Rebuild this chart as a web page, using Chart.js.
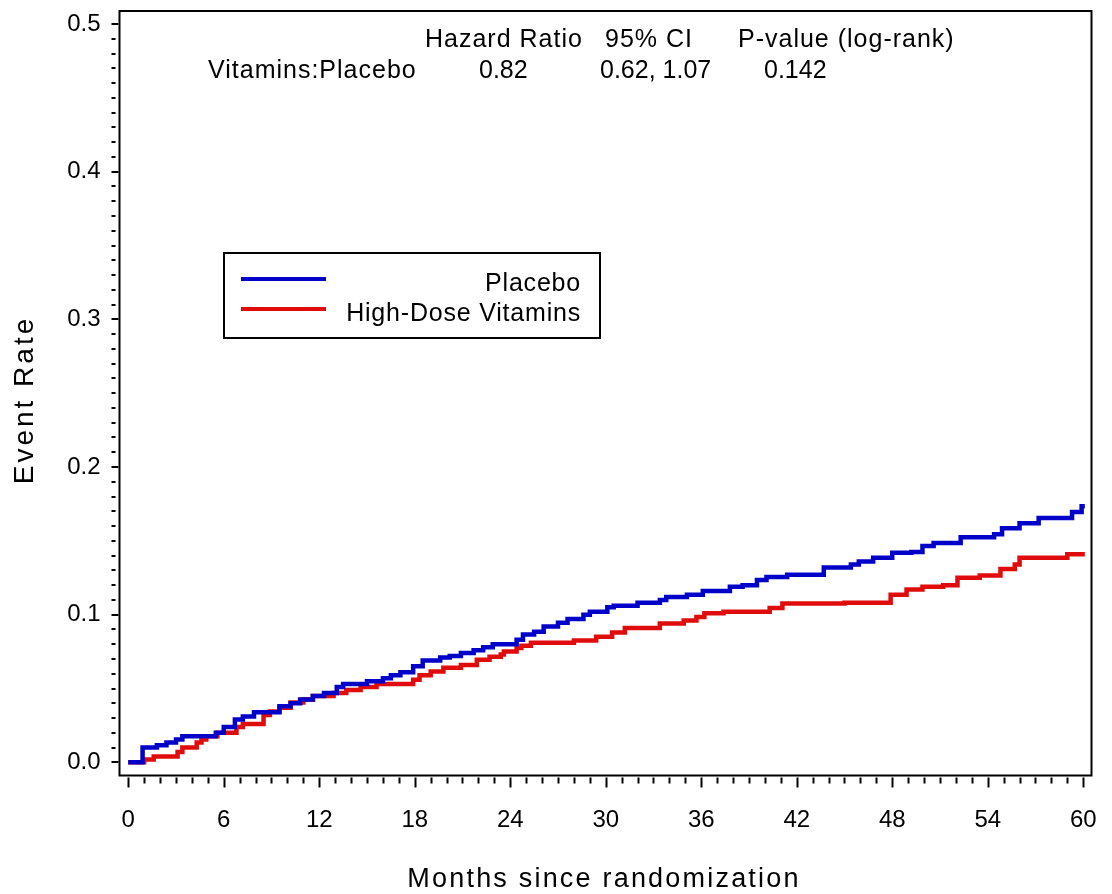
<!DOCTYPE html>
<html>
<head>
<meta charset="utf-8">
<script src="https://cdn.jsdelivr.net/npm/chart.js@4"></script>
<style>
    html, body { margin: 0; padding: 0; background: #fff; }
    #wrap { width: 1112px; height: 894px; }
</style>
</head>
<body>
<div id="wrap"><canvas id="km" width="1112" height="894"></canvas></div>
<script>
// Step points: the rate jumps to the value at that month
const monthsPlacebo = [0, 0.9, 1.8, 2.4, 3.0, 3.4, 5.5, 6.0, 6.7, 7.2, 7.9, 9.5, 10.2, 10.8, 11.6, 12.3, 13.1, 13.5, 15.0, 16.0, 16.5, 17.1, 17.9, 18.5, 19.6, 20.2, 20.9, 21.7, 22.3, 22.9, 24.4, 24.8, 25.5, 26.1, 27.0, 27.6, 28.6, 29.0, 30.1, 30.5, 32.0, 33.4, 33.8, 35.1, 36.1, 37.8, 38.6, 39.5, 40.1, 41.4, 43.7, 45.4, 45.9, 46.8, 48.0, 49.2, 49.9, 50.6, 52.3, 54.4, 54.9, 56.0, 57.2, 59.3, 59.9, 60.1];
const ratePlacebo = [0, 0.010, 0.0115, 0.0135, 0.0155, 0.0176, 0.020, 0.024, 0.029, 0.031, 0.034, 0.038, 0.040, 0.0425, 0.045, 0.047, 0.051, 0.053, 0.055, 0.057, 0.059, 0.061, 0.065, 0.069, 0.071, 0.072, 0.074, 0.076, 0.078, 0.080, 0.083, 0.0865, 0.0885, 0.092, 0.0945, 0.097, 0.100, 0.102, 0.105, 0.106, 0.108, 0.110, 0.112, 0.1135, 0.116, 0.119, 0.120, 0.1235, 0.1255, 0.127, 0.132, 0.134, 0.136, 0.1385, 0.142, 0.1425, 0.1465, 0.1485, 0.1525, 0.1545, 0.1585, 0.162, 0.1655, 0.1695, 0.1735, 0.1735];

const monthsVitamins = [0, 1.0, 1.6, 3.1, 3.4, 4.3, 4.6, 4.9, 5.6, 6.8, 7.2, 8.5, 8.9, 9.5, 10.2, 11.0, 11.6, 12.9, 13.7, 14.6, 15.6, 17.9, 18.3, 19.0, 19.8, 20.9, 21.9, 22.7, 23.4, 23.6, 24.4, 24.7, 25.3, 28.0, 29.4, 30.4, 31.2, 33.4, 34.9, 35.7, 36.2, 37.4, 40.3, 41.1, 45.0, 47.9, 48.9, 49.9, 51.2, 52.1, 53.5, 54.8, 55.7, 56.0, 59.0, 60.1];
const rateVitamins = [0, 0.002, 0.004, 0.007, 0.010, 0.0135, 0.0155, 0.0176, 0.020, 0.024, 0.026, 0.032, 0.0345, 0.037, 0.0405, 0.0425, 0.045, 0.047, 0.049, 0.051, 0.053, 0.056, 0.059, 0.0615, 0.064, 0.066, 0.0695, 0.0715, 0.073, 0.075, 0.0775, 0.079, 0.081, 0.0825, 0.085, 0.088, 0.091, 0.094, 0.096, 0.0985, 0.101, 0.102, 0.1045, 0.1075, 0.108, 0.1135, 0.117, 0.119, 0.120, 0.125, 0.1265, 0.131, 0.134, 0.1385, 0.141, 0.141];

const seriesNames = ["Placebo", "High-Dose Vitamins"];
const xMajorStep = 6;      // labelled month ticks
const yMajorStep = 0.1;    // labelled rate ticks
const xTitle = "Months since randomization";
const yTitle = "Event Rate";
const tableHeader = ["Hazard Ratio", "95% CI", "P-value (log-rank)"];
const tableRow = ["Vitamins:Placebo", "0.82", "0.62, 1.07", "0.142"];

const FONT = '"Liberation Sans", Arial, sans-serif';
const toPoints = (xs, ys) => xs.map((x, i) => ({ x: x, y: ys[i] }));

// frame, tick marks, axis titles, legend box and the hazard ratio table
const decorations = {
    id: "decorations",
    afterDraw(chart) {
        const ctx = chart.ctx,
            area = chart.chartArea,
            xs = chart.scales.x,
            ys = chart.scales.y;
        ctx.save();
        ctx.strokeStyle = "#000";
        ctx.lineWidth = 2;
        ctx.strokeRect(area.left, area.top, area.right - area.left, area.bottom - area.top);

        // x ticks: every month, longer at labelled ones
        ctx.beginPath();
        xs.ticks.forEach(t => {
            let px = Math.round(xs.getPixelForValue(t.value)) + 0.5,
                major = Math.round(t.value) % xMajorStep == 0;
            ctx.moveTo(px, area.bottom + 2);
            ctx.lineTo(px, area.bottom + (major ? 12 : 8));
        });
        // y ticks
        ys.ticks.forEach(t => {
            let py = Math.round(ys.getPixelForValue(t.value)),
                major = Math.round(t.value * 100) % Math.round(yMajorStep * 100) == 0;
            ctx.moveTo(area.left - 8, py);
            ctx.lineTo(area.left - (major ? 1 : 4), py);
        });
        ctx.stroke();

        ctx.fillStyle = "#000";
        ctx.textBaseline = "alphabetic";

        // axis titles
        ctx.textAlign = "center";
        ctx.font = "27px " + FONT;
        ctx.letterSpacing = "2.2px";
        ctx.fillText(xTitle, 604, 887);
        ctx.save();
        ctx.translate(33, 400);
        ctx.rotate(-Math.PI / 2);
        ctx.font = "28px " + FONT;
        ctx.letterSpacing = "3px";
        ctx.fillText(yTitle, 0, 0);
        ctx.restore();

        // legend
        const box = { left: 224, top: 253, right: 600, bottom: 338 };
        ctx.lineWidth = 2;
        ctx.strokeRect(box.left, box.top, box.right - box.left, box.bottom - box.top);
        ctx.font = "25px " + FONT;
        ctx.letterSpacing = "0.8px";
        ctx.textAlign = "right";
        chart.data.datasets.forEach((ds, i) => {
            let y = 279 + i * 30;
            ctx.beginPath();
            ctx.strokeStyle = ds.borderColor;
            ctx.lineWidth = 4;
            ctx.moveTo(241, y);
            ctx.lineTo(326, y);
            ctx.stroke();
            ctx.fillText(ds.label, 581, y + 12);
        });

        // table text (numbers are set without extra spacing)
        ctx.textAlign = "left";
        ctx.letterSpacing = "1px";
        const headX = [425, 605, 738];
        tableHeader.forEach((s, i) => ctx.fillText(s, headX[i], 47));
        const rowX = [208, 479, 600, 764];
        tableRow.forEach((s, i) => {
            ctx.letterSpacing = i == 0 ? "1px" : "0px";
            ctx.fillText(s, rowX[i], 78);
        });
        ctx.restore();
    }
};

new Chart(document.getElementById("km"), {
    type: "line",
    data: {
        datasets: [
            {
                label: seriesNames[0],
                data: toPoints(monthsPlacebo, ratePlacebo),
                borderColor: "#0000c8",
                borderWidth: 4.5,
                stepped: true,
                pointRadius: 0
            },
            {
                label: seriesNames[1],
                data: toPoints(monthsVitamins, rateVitamins),
                borderColor: "#e00c0c",
                borderWidth: 4.5,
                stepped: true,
                pointRadius: 0
            }
        ]
    },
    plugins: [decorations],
    options: {
        responsive: false,
        animation: false,
        parsing: false,
        layout: { padding: { top: 11, right: 20.5, left: 0, bottom: 0 } },
        plugins: {
            legend: { display: false },
            tooltip: { enabled: false }
        },
        scales: {
            x: {
                type: "linear",
                min: -0.55,
                max: 60.52,
                grid: { display: false, drawTicks: false },
                border: { display: false },
                afterBuildTicks: scale => {
                    let ticks = [];
                    for (let m = 0; m <= 60; m++)
                        ticks.push({ value: m });
                    scale.ticks = ticks;
                },
                afterFit: scale => {
                    scale.height = 894 - 775.5;
                    scale.paddingLeft = 0;
                    scale.paddingRight = 0;
                },
                ticks: {
                    autoSkip: false,
                    maxRotation: 0,
                    padding: 30,
                    color: "#000",
                    font: { family: FONT, size: 24 },
                    callback: v => Math.round(v) % xMajorStep == 0 ? String(Math.round(v)) : ""
                }
            },
            y: {
                type: "linear",
                min: -0.0089,
                max: 0.5088,
                grid: { display: false, drawTicks: false },
                border: { display: false },
                afterBuildTicks: scale => {
                    let ticks = [];
                    for (let k = 0; k <= 50; k++)
                        ticks.push({ value: k / 100 });
                    scale.ticks = ticks;
                },
                afterFit: scale => {
                    scale.width = 119.5;
                    scale.paddingTop = 0;
                    scale.paddingBottom = 0;
                },
                ticks: {
                    autoSkip: false,
                    padding: 19,
                    color: "#000",
                    font: { family: FONT, size: 24 },
                    callback: v => Math.round(v * 100) % 10 == 0 ? v.toFixed(1) : ""
                }
            }
        }
    }
});
</script>
</body>
</html>
